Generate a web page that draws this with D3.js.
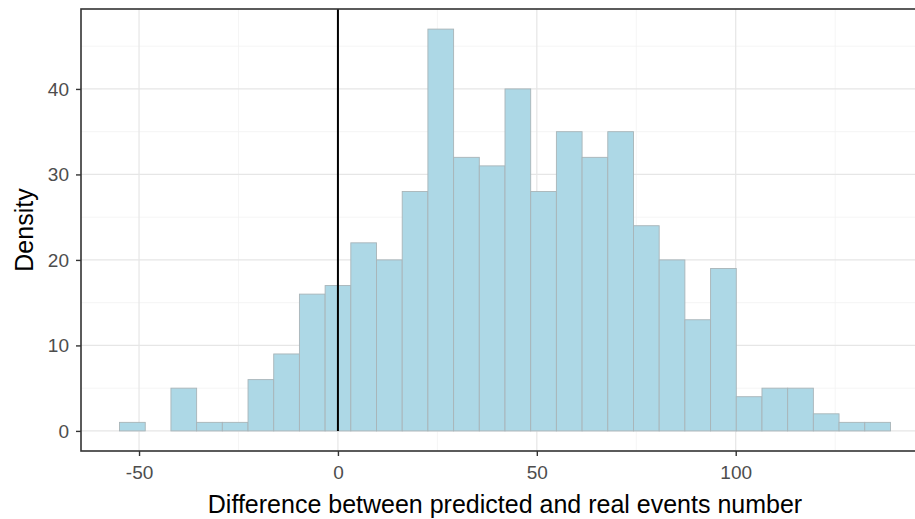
<!DOCTYPE html>
<html lang="en">
  <head>
    <meta charset="UTF-8" />
    <title>Histogram - prediction difference</title>
    <script src="https://d3js.org/d3.v7.min.js"></script>
    <style>
      body { margin: 0; background: #fff; }
      text { font-family: "Liberation Sans", Arial, sans-serif; }
    </style>
  </head>
  <body>
    <svg id="hist" width="915" height="519"></svg>

    <script>
      // histogram counts, 30 bins
      const binStart = -54.9;
      const binWidth = 6.46;
      const counts = [1, 0, 5, 1, 1, 6, 9, 16, 17, 22, 20, 28, 47, 32, 31,
        40, 28, 35, 32, 35, 24, 20, 13, 19, 4, 5, 5, 2, 1, 1];
      const xTicks = [-50, 0, 50, 100];
      const xMinor = [-25, 25, 75, 125];
      const yTicks = [0, 10, 20, 30, 40];
      const yMinor = [5, 15, 25, 35, 45];
      const refLine = 0;

      const bins = counts.map((c, i) => ({
        x0: binStart + i * binWidth,
        x1: binStart + (i + 1) * binWidth,
        count: c,
      }));

      const svg = d3.select("#hist");
      const margin = { left: 81, top: 9, right: 929, bottom: 451 };

      const xLo = bins[0].x0, xHi = bins[bins.length - 1].x1;
      const xPad = (xHi - xLo) * 0.05;
      const x = d3.scaleLinear()
        .domain([xLo - xPad, xHi + xPad])
        .range([margin.left, margin.right]);

      const yMax = d3.max(counts);
      const y = d3.scaleLinear()
        .domain([-yMax * 0.05, yMax * 1.05])
        .range([margin.bottom, margin.top]);

      const grid = svg.append("g");
      grid.selectAll(".xminor").data(xMinor).enter().append("line")
        .attr("x1", (d) => x(d)).attr("x2", (d) => x(d))
        .attr("y1", margin.top).attr("y2", margin.bottom)
        .attr("stroke", "#f2f2f2").attr("stroke-width", 0.8);
      grid.selectAll(".yminor").data(yMinor).enter().append("line")
        .attr("x1", margin.left).attr("x2", margin.right)
        .attr("y1", (d) => y(d)).attr("y2", (d) => y(d))
        .attr("stroke", "#f2f2f2").attr("stroke-width", 0.8);
      grid.selectAll(".xmajor").data(xTicks).enter().append("line")
        .attr("x1", (d) => x(d)).attr("x2", (d) => x(d))
        .attr("y1", margin.top).attr("y2", margin.bottom)
        .attr("stroke", "#e6e6e6").attr("stroke-width", 1.2);
      grid.selectAll(".ymajor").data(yTicks).enter().append("line")
        .attr("x1", margin.left).attr("x2", margin.right)
        .attr("y1", (d) => y(d)).attr("y2", (d) => y(d))
        .attr("stroke", "#e6e6e6").attr("stroke-width", 1.2);

      svg.append("g")
        .selectAll("rect")
        .data(bins)
        .enter()
        .append("rect")
        .attr("x", (d) => x(d.x0))
        .attr("width", (d) => x(d.x1) - x(d.x0))
        .attr("y", (d) => y(d.count))
        .attr("height", (d) => y(0) - y(d.count))
        .attr("fill", "#add8e6")
        .attr("stroke", "#a8b4b8")
        .attr("stroke-width", 0.9);

      // reference line at zero
      svg.append("line")
        .attr("x1", x(refLine)).attr("x2", x(refLine))
        .attr("y1", y(0)).attr("y2", margin.top)
        .attr("stroke", "#000").attr("stroke-width", 2);

      svg.append("rect")
        .attr("x", margin.left).attr("y", margin.top)
        .attr("width", margin.right - margin.left)
        .attr("height", margin.bottom - margin.top)
        .attr("fill", "none")
        .attr("stroke", "#333").attr("stroke-width", 1.6);

      const fmt = (d) => String(d); // plain hyphen minus like R
      const xAxis = svg.append("g")
        .attr("transform", `translate(0,${margin.bottom})`)
        .call(d3.axisBottom(x).tickValues(xTicks).tickFormat(fmt)
          .tickSize(5).tickPadding(10));
      const yAxis = svg.append("g")
        .attr("transform", `translate(${margin.left},0)`)
        .call(d3.axisLeft(y).tickValues(yTicks).tickFormat(fmt)
          .tickSize(5).tickPadding(7));

      [xAxis, yAxis].forEach((a) => {
        a.select(".domain").remove();
        a.selectAll(".tick line").attr("stroke", "#333").attr("stroke-width", 1.4);
        a.selectAll(".tick text")
          .attr("fill", "#4d4d4d")
          .style("font-size", "19px");
      });

      svg.append("text")
        .attr("x", (margin.left + margin.right) / 2)
        .attr("y", 513)
        .attr("text-anchor", "middle")
        .style("font-size", "25px")
        .attr("fill", "#000")
        .text("Difference between predicted and real events number");

      svg.append("text")
        .attr("transform", `translate(33,${(margin.top + margin.bottom) / 2}) rotate(-90)`)
        .attr("text-anchor", "middle")
        .style("font-size", "25px")
        .attr("fill", "#000")
        .text("Density");
    </script>
  </body>
</html>
